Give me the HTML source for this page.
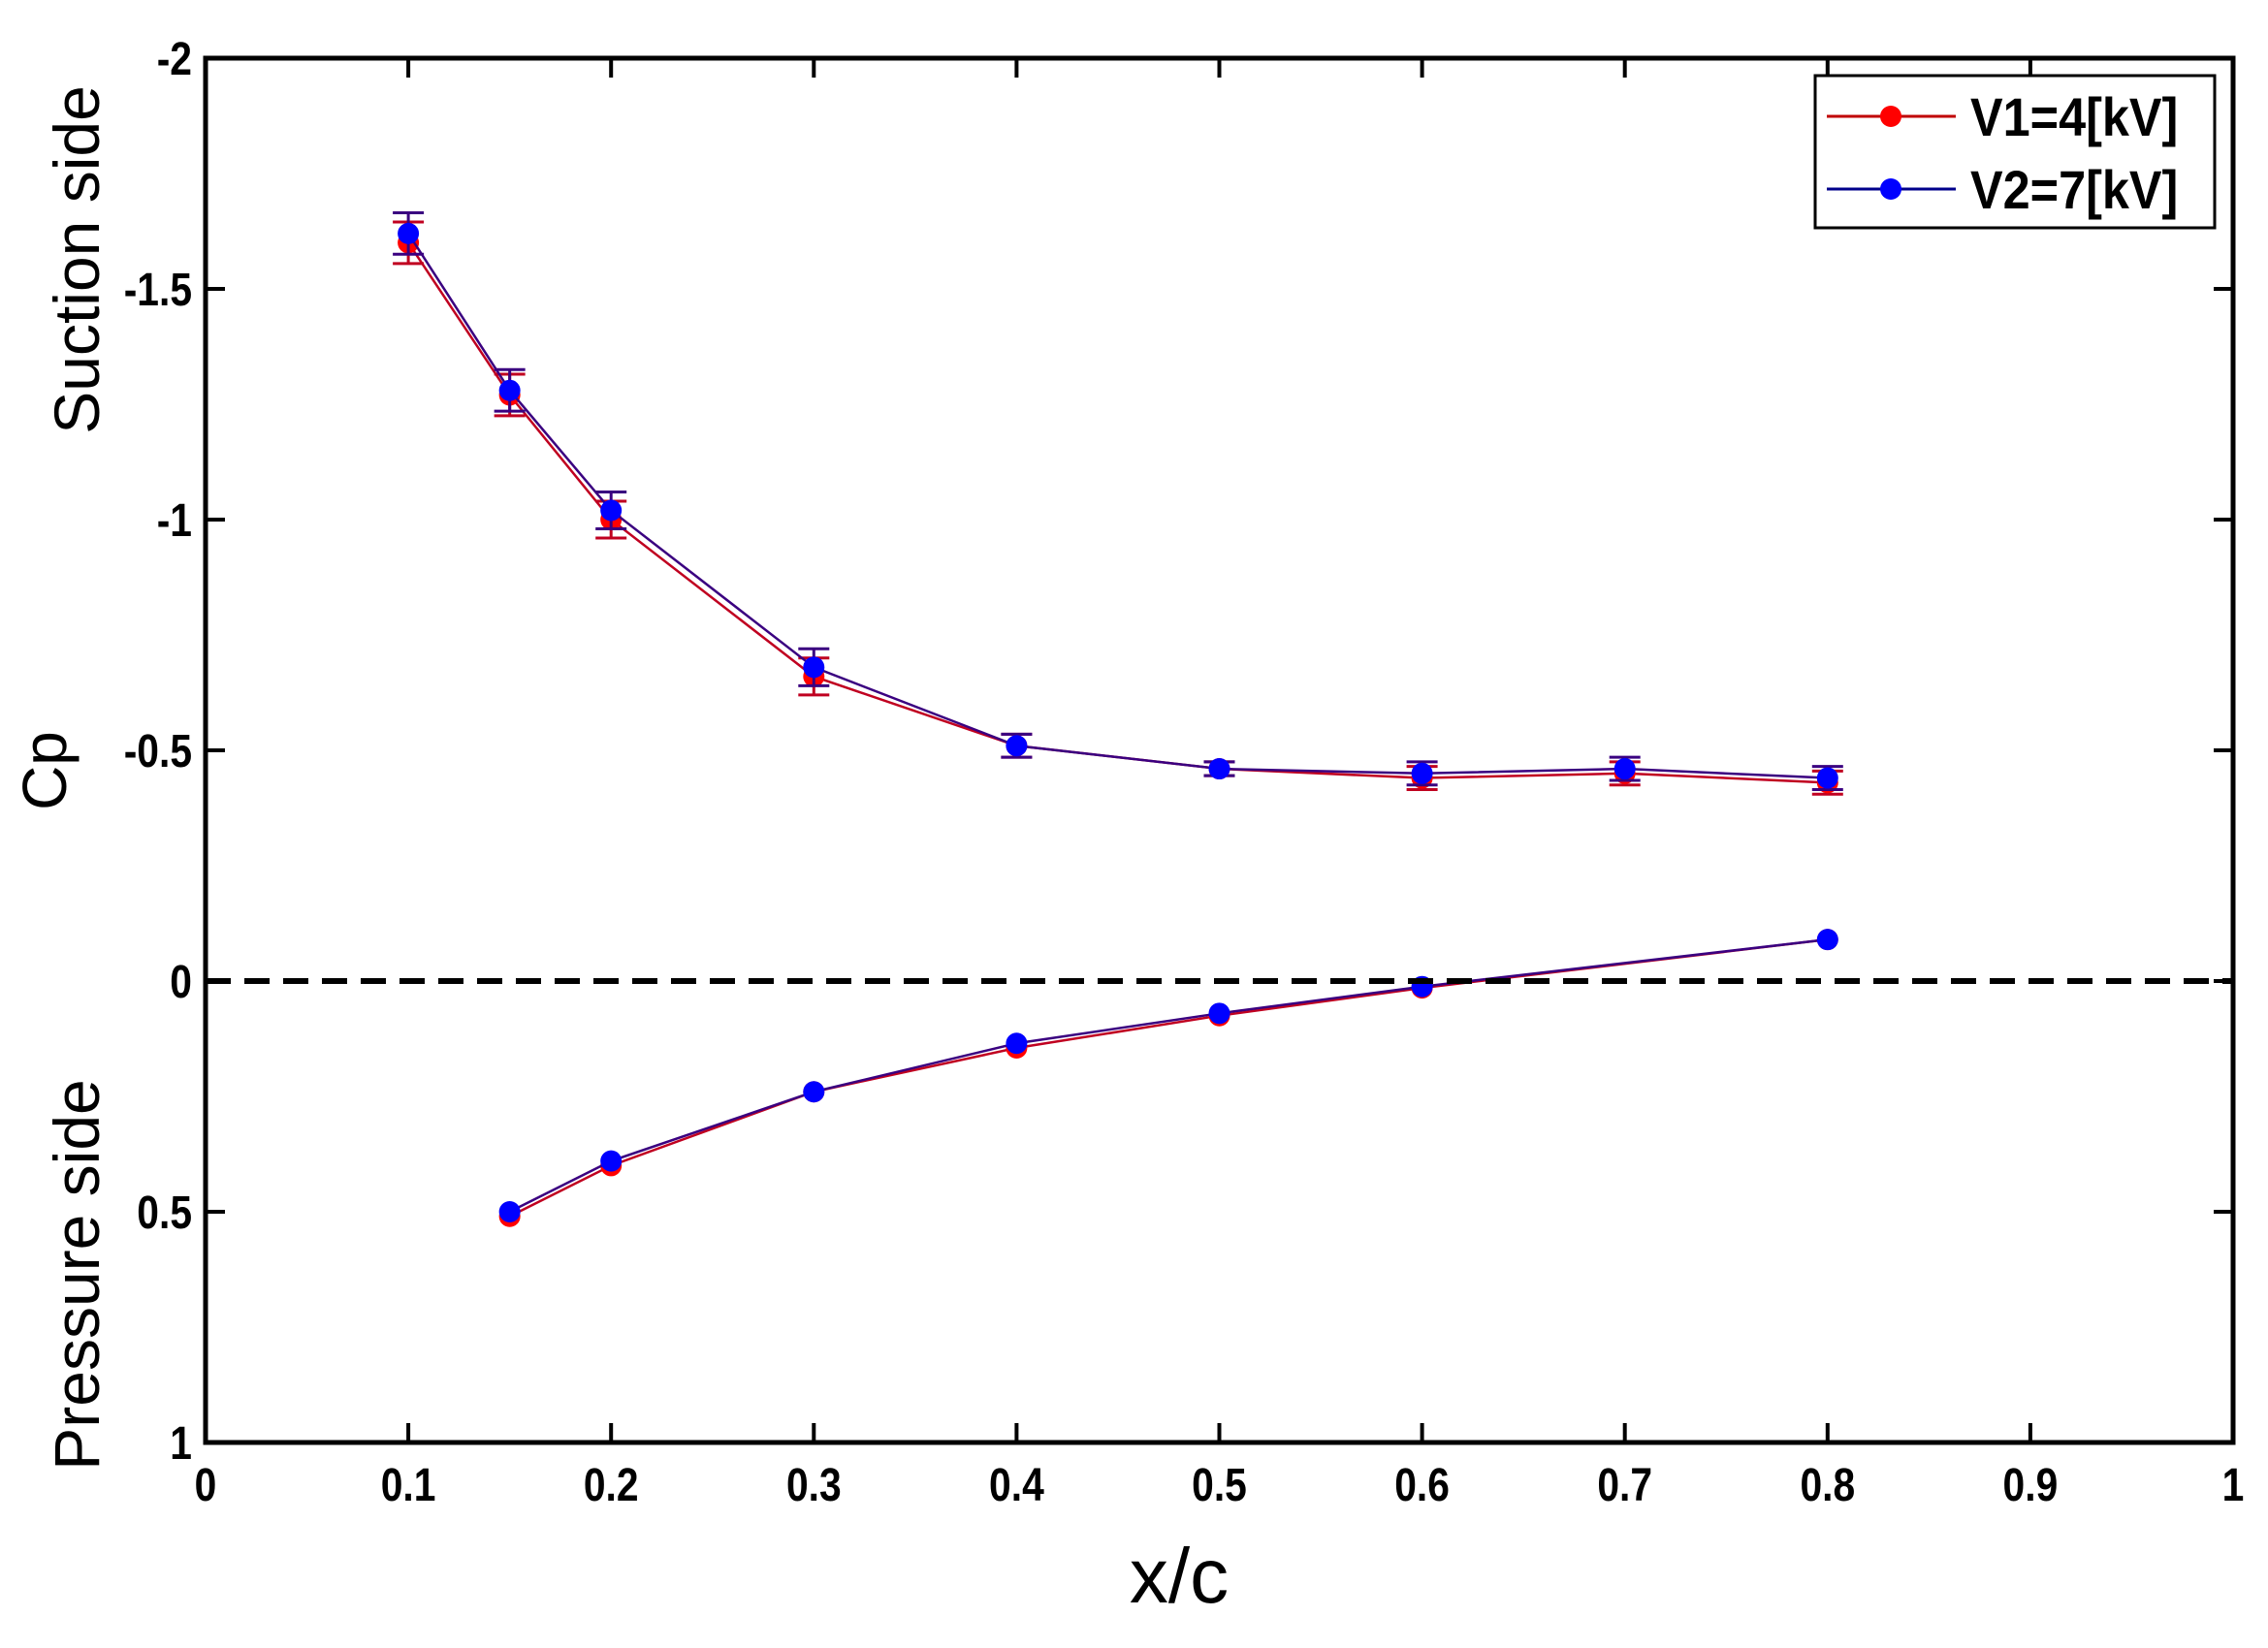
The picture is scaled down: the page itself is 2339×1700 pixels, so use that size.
<!DOCTYPE html>
<html><head><meta charset="utf-8"><style>
html,body{margin:0;padding:0;background:#fff;}
svg{display:block;}
.t{font-family:"Liberation Sans",Arial,sans-serif;font-weight:bold;font-size:48px;fill:#000;}
.l{font-family:"Liberation Sans",Arial,sans-serif;fill:#000;}
</style></head><body>
<svg width="2339" height="1700" viewBox="0 0 2339 1700" xmlns="http://www.w3.org/2000/svg">
<rect width="2339" height="1700" fill="#fff"/>
<g id="plot"></g>
<rect x="212" y="60" width="2091" height="1428" fill="none" stroke="#000" stroke-width="5"/>
<line x1="212" y1="1012" x2="2303" y2="1012" stroke="#000" stroke-width="6" stroke-dasharray="26,14"/>
<g id="ticks" stroke="#000" stroke-width="4"></g>
<g id="labels"></g>
<text class="l" x="1216" y="1653" text-anchor="middle" style="font-size:80px">x/c</text>
<text class="l" transform="translate(68,795) rotate(-90)" text-anchor="middle" style="font-size:64px">Cp</text>
<text class="l" transform="translate(102,268) rotate(-90)" text-anchor="middle" style="font-size:66px">Suction side</text>
<text class="l" transform="translate(102,1315) rotate(-90)" text-anchor="middle" style="font-size:66px">Pressure side</text>
<rect x="1872" y="78" width="412" height="157" fill="#fff" stroke="#000" stroke-width="3"/>
<line x1="1884" y1="120" x2="2017" y2="120" stroke="#c00000" stroke-width="3"/>
<circle cx="1950" cy="120" r="11" fill="#f00"/>
<line x1="1884" y1="195" x2="2017" y2="195" stroke="#00008b" stroke-width="3"/>
<circle cx="1950" cy="195" r="11" fill="#00f"/>
<text class="t" transform="translate(2032,140) scale(0.9,1)" style="font-size:56px">V1=4[kV]</text>
<text class="t" transform="translate(2032,215) scale(0.9,1)" style="font-size:56px">V2=7[kV]</text>
<script>
(function(){
var NS="http://www.w3.org/2000/svg";
function X(v){return 212+v*2091;}
function Y(v){return 1012+v*476;}
function el(p,tag,a){var e=document.createElementNS(NS,tag);for(var k in a)e.setAttribute(k,a[k]);p.appendChild(e);return e;}
var tk=document.getElementById("ticks"),lb=document.getElementById("labels"),pl=document.getElementById("plot");
for(var i=0;i<=10;i++){var x=X(i/10);
 el(tk,"line",{x1:x,y1:1488,x2:x,y2:1468});el(tk,"line",{x1:x,y1:60,x2:x,y2:80});
 var t=el(lb,"text",{"class":"t",transform:"translate("+x+",1548) scale(0.85,1)","text-anchor":"middle"});t.textContent=(i==0?"0":i==10?"1":"0."+i);}
var yv=[-2,-1.5,-1,-0.5,0,0.5,1];
yv.forEach(function(v){var y=Y(v);
 el(tk,"line",{x1:212,y1:y,x2:232,y2:y});el(tk,"line",{x1:2303,y1:y,x2:2283,y2:y});
 var t=el(lb,"text",{"class":"t",transform:"translate(198,"+(y+17)+") scale(0.85,1)","text-anchor":"end"});t.textContent=String(v);});
var xs=[0.1,0.15,0.2,0.3,0.4,0.5,0.6,0.7,0.8];
var sR=[-1.60,-1.27,-1.00,-0.66,-0.51,-0.46,-0.44,-0.45,-0.43];
var sB=[-1.62,-1.28,-1.02,-0.68,-0.51,-0.46,-0.45,-0.46,-0.44];
var ex=[0.045,0.045,0.04,0.04,0.025,0.015,0.025,0.025,0.025];
var px=[0.15,0.2,0.3,0.4,0.5,0.6,0.8];
var pR=[0.51,0.40,0.24,0.145,0.075,0.015,-0.09];
var pB=[0.50,0.39,0.24,0.135,0.07,0.012,-0.09];
function series(xa,ya,col,mc,errs){
 var pts=xa.map(function(x,i){return X(x)+","+Y(ya[i]);}).join(" ");
 el(pl,"polyline",{points:pts,fill:"none",stroke:col,"stroke-width":2.5});
 xa.forEach(function(x,i){var cx=X(x),cy=Y(ya[i]);
  if(errs){var e=errs[i]*476;
   el(pl,"line",{x1:cx,y1:cy-e,x2:cx,y2:cy+e,stroke:col,"stroke-width":3});
   el(pl,"line",{x1:cx-16,y1:cy-e,x2:cx+16,y2:cy-e,stroke:col,"stroke-width":3});
   el(pl,"line",{x1:cx-16,y1:cy+e,x2:cx+16,y2:cy+e,stroke:col,"stroke-width":3});}
  el(pl,"circle",{cx:cx,cy:cy,r:11,fill:mc});});
}
series(xs,sR,"#c00020","#f00",ex);
series(px,pR,"#c00020","#f00",null);
series(xs,sB,"#3a0080","#00f",ex);
series(px,pB,"#3a0080","#00f",null);
})();
</script>
</svg>
</body></html>
